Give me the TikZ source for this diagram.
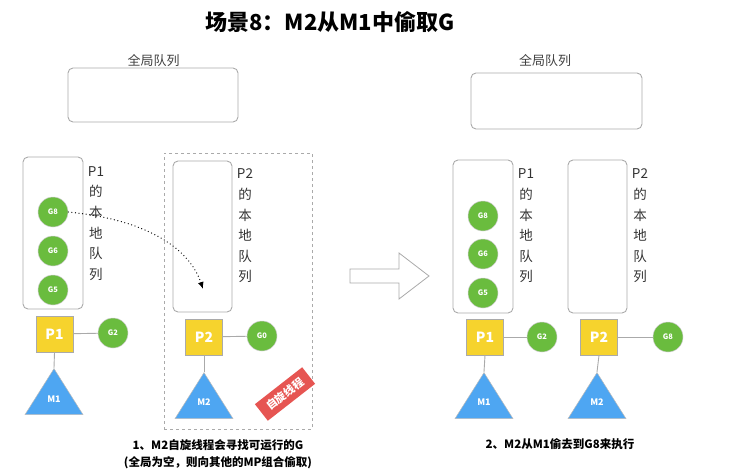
\documentclass[tikz,border=0pt]{standalone}
\usepackage{fontspec}
\setmainfont{Noto Sans CJK SC}
\usetikzlibrary{shapes.geometric,arrows.meta}
\definecolor{gyellow}{HTML}{F6D32D}
\definecolor{ggreen}{HTML}{6ABC3E}
\definecolor{gblue}{HTML}{4EA6F2}
\definecolor{gred}{HTML}{E65552}
\definecolor{gline}{HTML}{AAAAAA}
\begin{document}
\begin{tikzpicture}[x=1pt, y=-1pt,
    qbox/.style = {draw=gline, line width=.9pt, rounded corners=5pt, inner sep=0pt},
    gnode/.style = {circle, fill=ggreen, draw=gline!60, line width=.5pt, minimum size=30pt,
      inner sep=0pt, text=white, font=\bfseries\fontsize{7.5}{8}\selectfont},
    pnode/.style = {rectangle, fill=gyellow, draw=gline, line width=.7pt, minimum width=37pt,
      minimum height=36pt, inner sep=0pt, text=white, font=\bfseries\fontsize{14}{16}\selectfont},
    mnode/.style = {isosceles triangle, shape border rotate=90, isosceles triangle stretches,
      minimum width=58pt, minimum height=46pt, inner sep=0pt, fill=gblue, draw=gline!80,
      line width=.5pt, anchor=apex},
    mtext/.style = {text=white, font=\bfseries\fontsize{9}{10}\selectfont},
    qtext/.style = {align=center, text=black!80, font=\fontsize{13.5}{20.6}\selectfont},
    link/.style = {draw=gline, line width=.9pt}]
  \useasboundingbox (0,0) rectangle (756,474);
  \node [font=\bfseries\fontsize{22}{24}\selectfont] (title) at (330,22) {场景8：M2从M1中偷取G};

  % left: before stealing
  \node [qbox, minimum width=170pt, minimum height=54pt] (gq1) at (153,95) {};
  \node [font=\fontsize{13}{14}\selectfont, text=black!75] (gq1l) at (153.5,61) {全局队列};
  \node [qbox, minimum width=60pt, minimum height=152pt] (lq1) at (53,233) {};
  \foreach \g/\y in {8/212, 6/251, 5/290}
    \node [gnode] (lg\g) at (53,\y) {G\g};
  \node [qtext] (lq1l) at (96,223.5) {P1\\的\\本\\地\\队\\列};
  \node [draw=gline, dashed, line width=.8pt, minimum width=148pt, minimum height=276pt,
    inner sep=0pt] (spin) at (238,291) {};
  \node [qbox, minimum width=59pt, minimum height=151pt] (lq2) at (202.5,236.5) {};
  \node [qtext] (lq2l) at (245,226) {P2\\的\\本\\地\\队\\列};
  \coordinate (steal) at (203,289);
  \draw [line width=1.3pt, line cap=round, dash pattern=on 0pt off 3.6pt,
    -{Latex[length=7pt, width=6pt]}]
    (lg8.east) .. controls (150,220) and (190,250) .. (steal);

  \node [pnode] (lp1) at (54.5,334) {P1};
  \node [gnode] (lg2) at (113,333) {G2};
  \node [mnode] (lm1) at (54,368) {};
  \node [mtext] at (54,399) {M1};
  \draw [link] (lp1) -- (lg2);
  \draw [link] (lp1.south) -- (lm1.apex);

  \node [pnode] (lp2) at (204,337) {P2};
  \node [gnode] (lg0) at (262,336) {G0};
  \node [mnode] (lm2) at (204,372) {};
  \node [mtext] at (204,402) {M2};
  \draw [link] (lp2) -- (lg0);
  \draw [link] (lp2.south) -- (lm2.apex);

  \node [fill=gred, text=white, rotate=38, minimum width=60pt, minimum height=21pt, inner sep=0pt,
    font=\bfseries\fontsize{11}{12}\selectfont] (stamp) at (285,394) {自旋线程};

  \node [font=\bfseries\fontsize{11.5}{17}\selectfont, align=center] (cap1) at (218,454.5)
    {1、M2自旋线程会寻找可运行的G\\(全局为空，则向其他的MP组合偷取)};

  % middle arrow
  \draw [gline, line width=.8pt, fill=white] (350,269) -- (399,269) -- (399,253) -- (429,276)
    -- (399,299) -- (399,283) -- (350,283) -- cycle;

  % right: after stealing
  \node [qbox, minimum width=171pt, minimum height=56pt] (gq2) at (556.5,101) {};
  \node [font=\fontsize{13}{14}\selectfont, text=black!75] (gq2l) at (545,61) {全局队列};
  \node [qbox, minimum width=60pt, minimum height=153pt] (lq3) at (483,236.5) {};
  \foreach \g/\y in {8/216, 6/254, 5/293}
    \node [gnode] (rg\g) at (483,\y) {G\g};
  \node [qtext] (lq3l) at (526,226) {P1\\的\\本\\地\\队\\列};
  \node [qbox, minimum width=59pt, minimum height=153pt] (lq4) at (597.5,236.5) {};
  \node [qtext] (lq4l) at (640,226) {P2\\的\\本\\地\\队\\列};

  \node [pnode] (rp1) at (485,337) {P1};
  \node [gnode] (rg2) at (542,337) {G2};
  \node [mnode] (rm1) at (484,372) {};
  \node [mtext] at (484,402) {M1};
  \draw [link] (rp1) -- (rg2);
  \draw [link] (rp1.south) -- (rm1.apex);

  \node [pnode] (rp2) at (599,337) {P2};
  \node [gnode] (rg8x) at (668,337) {G8};
  \node [mnode] (rm2) at (597,372) {};
  \node [mtext] at (597,402) {M2};
  \draw [link] (rp2) -- (rg8x);
  \draw [link] (rp2.south) -- (rm2.apex);

  \node [font=\bfseries\fontsize{11.5}{14}\selectfont] (cap2) at (560,444) {2、M2从M1偷去到G8来执行};
\end{tikzpicture}
\end{document}
